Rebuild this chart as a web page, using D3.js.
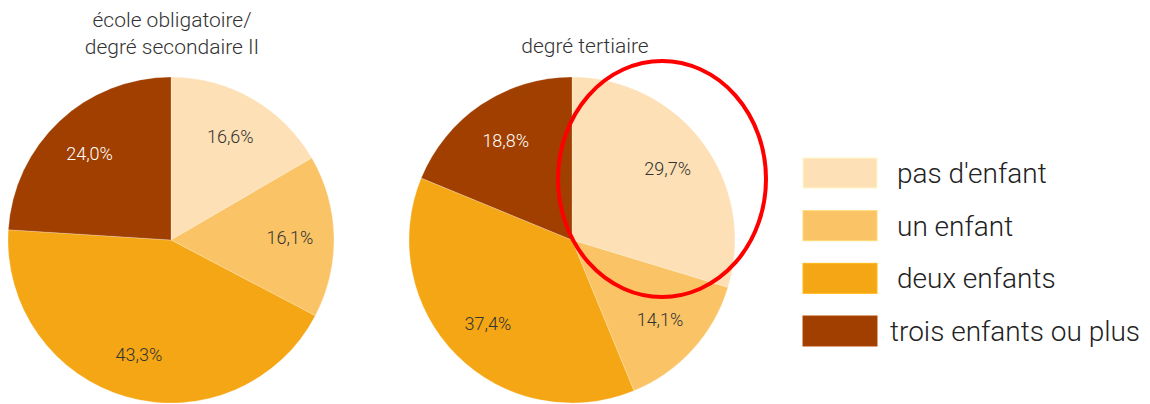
<!DOCTYPE html>
<html><head><meta charset="utf-8">
<script src="https://cdn.jsdelivr.net/npm/d3@7"></script>
<style>
html,body{margin:0;padding:0;background:#fff;}
svg{display:block;font-family:Roboto,"Noto Sans",sans-serif;}
</style></head>
<body>
<svg id="chart" width="1150" height="404"></svg>
<script>
const categories = ["pas d'enfant", "un enfant", "deux enfants", "trois enfants ou plus"];
const colors = ["#FDE0B5", "#FAC466", "#F5A614", "#A03F00"];
const labelColors = ["#333", "#333", "#333", "#fff"];
const seriesNames = [["école obligatoire/", "degré secondaire II"], ["degré tertiaire"]];
const valuesObligatoire = [16.6, 16.1, 43.3, 24.0];
const valuesTertiaire = [29.7, 14.1, 37.4, 18.8];
const series = [valuesObligatoire, valuesTertiaire];

const svg = d3.select("#chart");
const radius = 163;
const centers = [{x: 171, y: 240}, {x: 572, y: 240}];
const titleX = [172, 585];

const pie = d3.pie().sort(null).value(d => d);
const arc = d3.arc().innerRadius(0).outerRadius(radius);
const labelArc = d3.arc().innerRadius(radius * 0.73).outerRadius(radius * 0.73);
const fmt = v => d3.format(".1f")(v).replace(".", ",") + "%";

series.forEach((vals, i) => {
  const g = svg.append("g").attr("transform", `translate(${centers[i].x},${centers[i].y})`);
  const arcs = pie(vals);
  g.selectAll("path").data(arcs).join("path")
    .attr("d", arc)
    .attr("fill", (d, j) => colors[j])
    .attr("stroke", "#fff").attr("stroke-width", 0.4).attr("stroke-opacity", 0.6);
  g.selectAll("text").data(arcs).join("text")
    .attr("transform", d => `translate(${labelArc.centroid(d)})`)
    .attr("text-anchor", "middle").attr("dy", "0.35em")
    .attr("font-size", 18).attr("font-weight", 300)
    .attr("fill", (d, j) => labelColors[j])
    .text(d => fmt(d.data));

  const lines = seriesNames[i];
  const t = svg.append("text").attr("text-anchor", "middle")
    .attr("font-size", 21).attr("font-weight", 300).attr("fill", "#333");
  const baseY = i === 0 ? 27 : 53;
  lines.forEach((ln, k) => {
    t.append("tspan").attr("x", titleX[i]).attr("y", baseY + k * 27).text(ln);
  });
});

// legend
const legendY = d3.scalePoint().domain(categories).range([173, 331]);
const lg = svg.append("g");
categories.forEach((c, j) => {
  lg.append("rect").attr("x", 803).attr("y", legendY(c) - 15).attr("width", 74).attr("height", 30)
    .attr("fill", colors[j]).attr("stroke", d3.color(colors[j]).brighter(0.3)).attr("stroke-width", 1);
  lg.append("text").attr("x", c === "trois enfants ou plus" ? 890 : 897).attr("y", legendY(c) + 10)
    .attr("font-size", 28).attr("font-weight", 300).attr("fill", "#222").text(c);
});

// red annotation ellipse
svg.append("ellipse").attr("cx", 662).attr("cy", 179).attr("rx", 104).attr("ry", 118)
  .attr("fill", "none").attr("stroke", "#FF0000").attr("stroke-width", 4);
</script>
</body></html>
